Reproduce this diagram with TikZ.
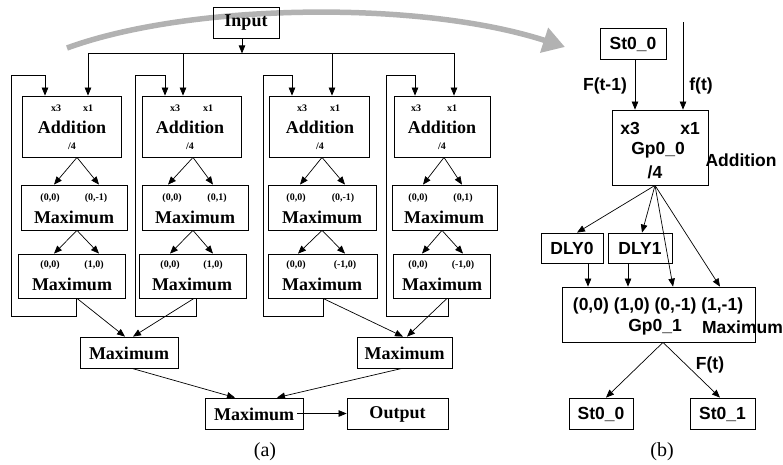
\documentclass[tikz,border=0pt]{standalone}
\usepackage{fontspec}
\setmainfont{Liberation Serif}
\setsansfont{Liberation Sans}
\usetikzlibrary{arrows.meta,calc}
\begin{document}
\begin{tikzpicture}[x=1pt,y=-1pt,
  box/.style={draw,line width=0.8pt,inner sep=0pt,minimum width=#1},
  box/.default=100,
  arr/.style={line width=0.7pt,-{Triangle[length=8pt,width=6.5pt]}},
  ln/.style={line width=0.7pt},
  big/.style={font=\bfseries\fontsize{18}{19}\selectfont,inner sep=0pt},
  sm/.style={font=\bfseries\fontsize{10}{11}\selectfont,inner sep=0pt},
  sb/.style={font=\sffamily\bfseries\fontsize{17.5}{18}\selectfont,inner sep=0pt},
  captext/.style={font=\fontsize{20}{21}\selectfont,inner sep=0pt},
  grayarc/.style={line width=5.5pt,draw=black!30,-{Triangle[length=22pt,width=25pt]}}
]
\useasboundingbox (0,0) rectangle (783,464);

% ---------- grey arc ----------
\coordinate (g0) at (67,48);
\coordinate (g1) at (565,47);
\draw[grayarc] (g0) .. controls (190,3) and (420,0) .. (g1);

% ---------- input and bus ----------
\node[box=66,minimum height=31] (In) at (246,22.5) {};
\node[big] (Int) at (246,23) {Input};
\coordinate (busL) at (88,53);
\coordinate (busR) at (454,53);
\draw[arr] ($(In.south)+(-4,0)$) -- ($(In.south)+(-4,15)$);
\draw[ln] (busL) -- (busR);

% ================= column 1 =================
\node[box=99,minimum height=61] (A1) at (71.5,126.5) {};
\node[sm] (A1a) at (56,108) {x3};
\node[sm] (A1b) at (88,108) {x1};
\node[big] (A1t) at (72,127) {Addition};
\node[sm] (A1d) at (72,146) {/4};
\node[box=106,minimum height=45] (M1) at (74,207.5) {};
\node[sm] (M1a) at (50,198) {(0,0)};
\node[sm] (M1b) at (96,198) {(0,-1)};
\node[big] (M1t) at (74,217) {Maximum};
\node[box=107,minimum height=44] (N1) at (71.5,276) {};
\node[sm] (N1a) at (50,265) {(0,0)};
\node[sm] (N1b) at (94,265) {(1,0)};
\node[big] (N1t) at (72,284) {Maximum};
\draw[arr] (busL) -- ($(A1.north)+(16.5,0)$);
\draw[arr] ($(A1.south)+(5.5,0)$) -- ($(M1.north)+(-20,0)$);
\draw[arr] ($(A1.south)+(5.5,0)$) -- ($(M1.north)+(25,0)$);
\draw[arr] ($(M1.south)+(3,0)$) -- ($(N1.north)+(-17.5,0)$);
\draw[arr] ($(M1.south)+(3,0)$) -- ($(N1.north)+(27.5,0)$);
\coordinate (F1) at (11,75);
\draw[arr] ($(N1.south)+(4.5,0)$) -- ($(N1.south)+(4.5,18)$) -| (F1) -| ($(A1.north)+(-26.5,0)$);

% ================= column 2 =================
\node[box=99,minimum height=61] (A2) at (191.5,126.5) {};
\node[sm] (A2a) at (175,108) {x3};
\node[sm] (A2b) at (208,108) {x1};
\node[big] (A2t) at (190,127) {Addition};
\node[sm] (A2d) at (190,146) {/4};
\node[box=106,minimum height=45] (M2) at (195,207.5) {};
\node[sm] (M2a) at (172,198) {(0,0)};
\node[sm] (M2b) at (217,198) {(0,1)};
\node[big] (M2t) at (195,217) {Maximum};
\node[box=107,minimum height=44] (N2) at (192.5,276) {};
\node[sm] (N2a) at (170,265) {(0,0)};
\node[sm] (N2b) at (213,265) {(1,0)};
\node[big] (N2t) at (192,284) {Maximum};
\coordinate (bus2) at (183,53);
\draw[arr] (bus2) -- ($(A2.north)+(-8.5,0)$);
\draw[arr] ($(A2.south)+(1.5,0)$) -- ($(M2.north)+(-27,0)$);
\draw[arr] ($(A2.south)+(1.5,0)$) -- ($(M2.north)+(18,0)$);
\draw[arr] ($(M2.south)+(-2,0)$) -- ($(N2.north)+(-22.5,0)$);
\draw[arr] ($(M2.south)+(-2,0)$) -- ($(N2.north)+(20.5,0)$);
\coordinate (F2) at (135,75);
\draw[arr] ($(N2.south)+(3.5,0)$) -- ($(N2.south)+(3.5,18)$) -| (F2) -| ($(A2.north)+(-26.5,0)$);

% ================= column 3 =================
\node[box=100,minimum height=61] (A3) at (319,126.5) {};
\node[sm] (A3a) at (302,108) {x3};
\node[sm] (A3b) at (335,108) {x1};
\node[big] (A3t) at (320,127) {Addition};
\node[sm] (A3d) at (320,146) {/4};
\node[box=108,minimum height=45] (M3) at (322,207.5) {};
\node[sm] (M3a) at (296,198) {(0,0)};
\node[sm] (M3b) at (343,198) {(0,-1)};
\node[big] (M3t) at (322,217) {Maximum};
\node[box=109,minimum height=44] (N3) at (322.5,276) {};
\node[sm] (N3a) at (296,265) {(0,0)};
\node[sm] (N3b) at (345,265) {(-1,0)};
\node[big] (N3t) at (322,284) {Maximum};
\coordinate (bus3) at (332,53);
\draw[arr] (bus3) -- ($(A3.north)+(13,0)$);
\draw[arr] ($(A3.south)+(3,0)$) -- ($(M3.north)+(-22,0)$);
\draw[arr] ($(A3.south)+(3,0)$) -- ($(M3.north)+(23,0)$);
\draw[arr] ($(M3.south)+(0,0)$) -- ($(N3.north)+(-24.5,0)$);
\draw[arr] ($(M3.south)+(0,0)$) -- ($(N3.north)+(22.5,0)$);
\coordinate (F3) at (263,75);
\draw[arr] ($(N3.south)+(0.5,0)$) -- ($(N3.south)+(0.5,18)$) -| (F3) -| ($(A3.north)+(-27,0)$);

% ================= column 4 =================
\node[box=96,minimum height=61] (A4) at (442,126.5) {};
\node[sm] (A4a) at (416,108) {x3};
\node[sm] (A4b) at (452,108) {x1};
\node[big] (A4t) at (442,127) {Addition};
\node[sm] (A4d) at (442,146) {/4};
\node[box=105,minimum height=45] (M4) at (444.5,207.5) {};
\node[sm] (M4a) at (418,198) {(0,0)};
\node[sm] (M4b) at (463,198) {(0,1)};
\node[big] (M4t) at (444,217) {Maximum};
\node[box=97,minimum height=44] (N4) at (441.5,276) {};
\node[sm] (N4a) at (418,265) {(0,0)};
\node[sm] (N4b) at (463,265) {(-1,0)};
\node[big] (N4t) at (442,284) {Maximum};
\draw[arr] (busR) -- ($(A4.north)+(12,0)$);
\draw[arr] ($(A4.south)+(2,0)$) -- ($(M4.north)+(-21.5,0)$);
\draw[arr] ($(A4.south)+(2,0)$) -- ($(M4.north)+(17.5,0)$);
\draw[arr] ($(M4.south)+(-2.5,0)$) -- ($(N4.north)+(-19.5,0)$);
\draw[arr] ($(M4.south)+(-2.5,0)$) -- ($(N4.north)+(21.5,0)$);
\coordinate (F4) at (386,75);
\draw[arr] ($(N4.south)+(6.5,0)$) -- ($(N4.south)+(6.5,18)$) -| (F4) -| ($(A4.north)+(-27,0)$);

% ---------- lower maxima ----------
\node[box=98,minimum height=31] (ML) at (129,352.5) {};
\node[big] (MLt) at (129,353) {Maximum};
\node[box=95,minimum height=31] (MR) at (404.5,352.5) {};
\node[big] (MRt) at (404.5,353) {Maximum};
\node[box=98,minimum height=31] (MB) at (254,413.5) {};
\node[big] (MBt) at (254,414) {Maximum};
\node[box=101,minimum height=31] (Out) at (397.5,413.5) {};
\node[big] (Outt) at (397.5,414) {Output};

\draw[arr] ($(N1.south)+(5.5,0)$) -- ($(ML.north)+(-4,0)$);
\draw[arr] ($(N2.south)+(1.5,0)$) -- ($(ML.north)+(4,0)$);
\draw[arr] ($(N3.south)+(0.5,0)$) -- ($(MR.north)+(-1.5,0)$);
\draw[arr] ($(N4.south)+(5.5,0)$) -- ($(MR.north)+(2.5,0)$);
\draw[arr] ($(ML.south)+(3,0)$) -- ($(MB.north)+(-19,0)$);
\draw[arr] ($(MR.south)+(-2.5,0)$) -- ($(MB.north)+(23,0)$);
\draw[arr] ($(MB.east)+(-6,0)$) -- (Out.west);

\node[captext] (capa) at (265,452) {(a)};

% ================= part (b) =================
\node[box=66,minimum height=31] (S0) at (633,43.5) {};
\node[sb] (S0t) at (633,44) {St0\_0};
\node[box=96,minimum height=75] (G0) at (660,147.5) {};
\node[sb] (G0a) at (630,128) {x3};
\node[sb] (G0b) at (690,128) {x1};
\node[sb] (G0t) at (658,150) {Gp0\_0};
\node[sb] (G0d) at (655,172) {/4};
\node[sb] (G0add) at (741,160) {Addition};
\coordinate (ftop) at (683,22);
\draw[arr] ($(S0.south)+(2,0)$) -- ($(G0.north)+(-25,0)$);
\draw[arr] (ftop) -- ($(G0.north)+(23,0)$);
\node[sb] (Ft1) at (605,86) {F(t-1)};
\node[sb] (ft) at (701,86) {f(t)};

\node[box=62,minimum height=30] (D0) at (572,248) {};
\node[sb] (D0t) at (572,248.5) {DLY0};
\node[box=64,minimum height=30] (D1) at (640,248) {};
\node[sb] (D1t) at (640,248.5) {DLY1};
\node[box=193,minimum height=55] (G1) at (658.5,314.5) {};
\node[sb] (G1r) at (658,306) {(0,0) (1,0) (0,-1) (1,-1)};
\node[sb] (G1t) at (655,327) {Gp0\_1};
\node[sb] (G1m) at (742.5,327) {Maximum};

\coordinate (fan) at ($(G0.south)+(-5,0)$);
\draw[arr] (fan) -- ($(D0.north)+(5,0)$);
\draw[arr] (fan) -- ($(D1.north)+(2,0)$);
\draw[arr] (fan) -- ($(G1.north)+(14.5,0)$);
\draw[arr] (fan) -- ($(G1.north)+(61.5,0)$);
\draw[arr] ($(D0.south)+(16,0)$) -- ($(G1.north)+(-70.5,0)$);
\draw[arr] ($(D1.south)+(-12,0)$) -- ($(G1.north)+(-30.5,0)$);

\node[box=64,minimum height=31] (S00) at (601,413.5) {};
\node[sb] (S00t) at (601,414) {St0\_0};
\node[box=65,minimum height=31] (S01) at (722.5,413.5) {};
\node[sb] (S01t) at (722.5,414) {St0\_1};
\draw[arr] ($(G1.south)+(4.5,0)$) -- ($(S00.north)+(5,0)$);
\draw[arr] ($(G1.south)+(4.5,0)$) -- ($(S01.north)+(-2.5,0)$);
\node[sb] (Ft) at (710,365) {F(t)};

\node[captext] (capb) at (662,452) {(b)};
\end{tikzpicture}
\end{document}
